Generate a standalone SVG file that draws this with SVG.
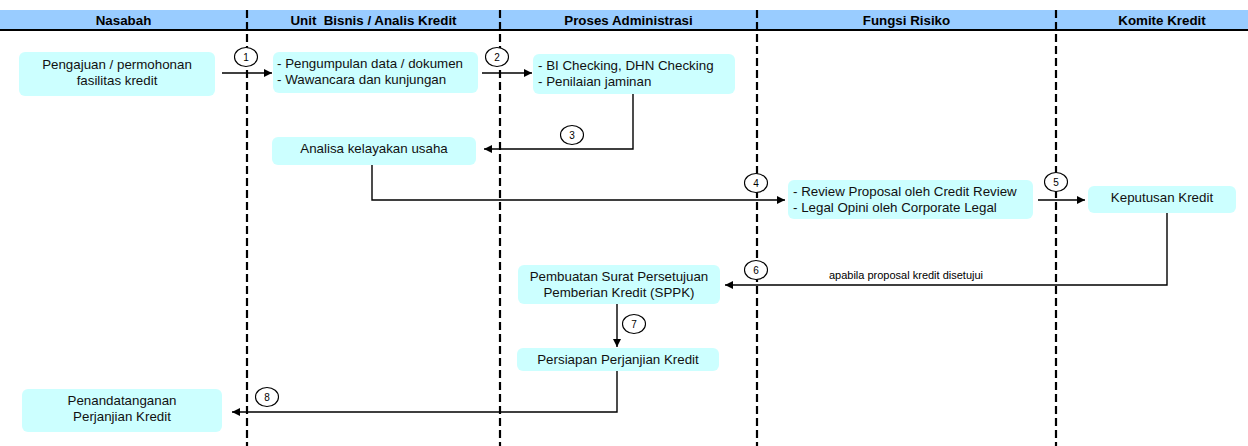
<svg xmlns="http://www.w3.org/2000/svg" width="1248" height="446" viewBox="0 0 1248 446">
<style>
.hd{font-family:"Liberation Sans",Arial,sans-serif;font-size:13.33px;font-weight:bold;fill:#000;text-anchor:middle}
.t{font-family:"Liberation Sans",Arial,sans-serif;font-size:13.33px;fill:#111}
.c{text-anchor:middle}
.box{fill:#CCFFFF}
.lane{stroke:#000;stroke-width:2.2;stroke-dasharray:8 4;fill:none}
.cn{stroke:#000;stroke-width:1.4;fill:none}
.num{fill:#fff;stroke:#000;stroke-width:1.1}
.nt{font-family:"Liberation Sans",Arial,sans-serif;font-size:10px;fill:#000;text-anchor:middle}
.lbl{font-family:"Liberation Sans",Arial,sans-serif;font-size:11px;fill:#000;text-anchor:middle}
</style>
<defs>
<marker id="ah" viewBox="0 0 10 10" refX="10" refY="5" markerWidth="9" markerHeight="8" markerUnits="userSpaceOnUse" orient="auto">
<path d="M0,0 L10,5 L0,10 z" fill="#000"/>
</marker>
</defs>
<rect width="1248" height="446" fill="#fff"/>
<g id="header">
<rect x="0" y="10" width="1248" height="20" fill="#99CCFF"/>
<line x1="0" y1="30" x2="1248" y2="30" stroke="#000" stroke-width="2"/>
<text class="hd" x="123.5" y="25">Nasabah</text>
<text class="hd" x="373.5" y="25" xml:space="preserve">Unit  Bisnis / Analis Kredit</text>
<text class="hd" x="628.5" y="25">Proses Administrasi</text>
<text class="hd" x="906.5" y="25">Fungsi Risiko</text>
<text class="hd" x="1162" y="25">Komite Kredit</text>
</g>
<g id="lanes">
<line class="lane" x1="247" y1="10" x2="247" y2="446"/>
<line class="lane" x1="500" y1="10" x2="500" y2="446"/>
<line class="lane" x1="757" y1="10" x2="757" y2="446"/>
<line class="lane" x1="1056" y1="10" x2="1056" y2="446"/>
</g>
<g id="n1">
<rect class="box" x="19" y="52" width="196" height="44" rx="6"/>
<text class="t c" x="117" y="69">Pengajuan / permohonan</text>
<text class="t c" x="117" y="85">fasilitas kredit</text>
</g>
<g id="n2">
<rect class="box" x="273" y="52" width="205" height="41" rx="6"/>
<text class="t" x="277" y="68">- Pengumpulan data / dokumen</text>
<text class="t" x="277" y="84">- Wawancara dan kunjungan</text>
</g>
<g id="n3">
<rect class="box" x="533" y="54" width="202" height="40" rx="6"/>
<text class="t" x="538" y="70">- BI Checking, DHN Checking</text>
<text class="t" x="538" y="86">- Penilaian jaminan</text>
</g>
<g id="n4">
<rect class="box" x="272" y="137" width="204" height="28" rx="6"/>
<text class="t c" x="374" y="152.5">Analisa kelayakan usaha</text>
</g>
<g id="n5">
<rect class="box" x="788" y="180" width="245" height="39" rx="6"/>
<text class="t" x="793" y="195.5">- Review Proposal oleh Credit Review</text>
<text class="t" x="793" y="211.5">- Legal Opini oleh Corporate Legal</text>
</g>
<g id="n6">
<rect class="box" x="1088" y="186" width="148" height="27" rx="6"/>
<text class="t c" x="1162" y="202">Keputusan Kredit</text>
</g>
<g id="n7">
<rect class="box" x="518" y="265" width="202" height="39" rx="6"/>
<text class="t c" x="619" y="281">Pembuatan Surat Persetujuan</text>
<text class="t c" x="619" y="297">Pemberian Kredit (SPPK)</text>
</g>
<g id="n8">
<rect class="box" x="517" y="348" width="202" height="23" rx="6"/>
<text class="t c" x="618" y="364">Persiapan Perjanjian Kredit</text>
</g>
<g id="n9">
<rect class="box" x="22" y="389" width="200" height="43" rx="6"/>
<text class="t c" x="122" y="405">Penandatanganan</text>
<text class="t c" x="122" y="421">Perjanjian Kredit</text>
</g>
<g id="connectors">
<line class="cn" x1="222" y1="73" x2="272" y2="73" marker-end="url(#ah)"/>
<line class="cn" x1="482" y1="73" x2="532" y2="73" marker-end="url(#ah)"/>
<polyline class="cn" points="633,94 633,149 484,149" marker-end="url(#ah)"/>
<polyline class="cn" points="372,165 372,200 785,200" marker-end="url(#ah)"/>
<line class="cn" x1="1038" y1="200" x2="1085" y2="200" marker-end="url(#ah)"/>
<polyline class="cn" points="1167,213 1167,285 725,285" marker-end="url(#ah)"/>
<line class="cn" x1="617" y1="304" x2="617" y2="347" marker-end="url(#ah)"/>
<polyline class="cn" points="617,371 617,412 232,412" marker-end="url(#ah)"/>
<text class="lbl" x="906" y="279">apabila proposal kredit disetujui</text>
</g>
<g id="markers">
<ellipse class="num" cx="246" cy="57" rx="11.5" ry="9.5"/><text class="nt" x="246" y="60.5">1</text>
<ellipse class="num" cx="497" cy="57" rx="11.5" ry="9.5"/><text class="nt" x="497" y="60.5">2</text>
<ellipse class="num" cx="572" cy="135" rx="11.5" ry="9.5"/><text class="nt" x="572" y="138.5">3</text>
<ellipse class="num" cx="756" cy="183" rx="11.5" ry="9.5"/><text class="nt" x="756" y="186.5">4</text>
<ellipse class="num" cx="1056" cy="182" rx="11.5" ry="9.5"/><text class="nt" x="1056" y="185.5">5</text>
<ellipse class="num" cx="756" cy="270" rx="11.5" ry="9.5"/><text class="nt" x="756" y="273.5">6</text>
<ellipse class="num" cx="634" cy="324" rx="11.5" ry="9.5"/><text class="nt" x="634" y="327.5">7</text>
<ellipse class="num" cx="267" cy="397" rx="11.5" ry="9.5"/><text class="nt" x="267" y="400.5">8</text>
</g>
</svg>
